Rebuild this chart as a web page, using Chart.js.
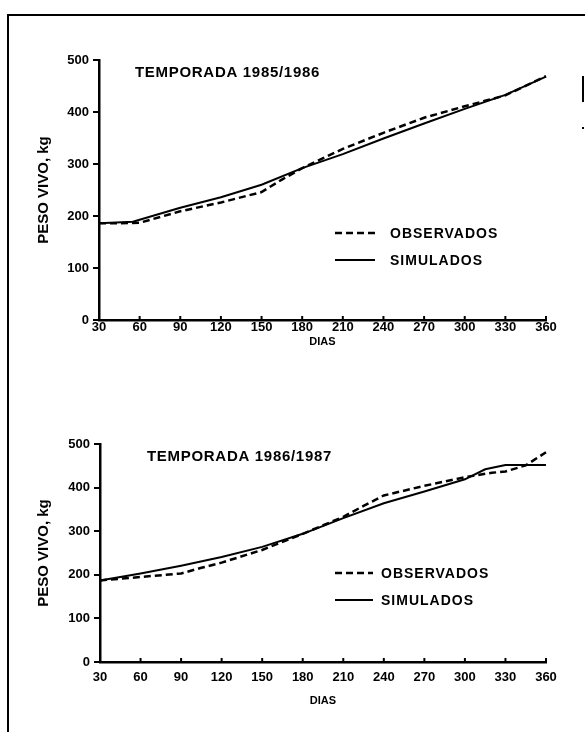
<!DOCTYPE html>
<html><head><meta charset="utf-8">
<script src="https://cdn.jsdelivr.net/npm/chart.js@4.4.1/dist/chart.umd.min.js"></script>
<style>
html,body{margin:0;padding:0;background:#fff;}
body{width:585px;height:732px;position:relative;overflow:hidden;}
#frame{position:absolute;left:7px;top:14px;width:620px;height:800px;border-left:2px solid #000;border-top:2px solid #000;box-sizing:border-box;}
.wrap{position:absolute;left:0;width:585px;height:366px;}
#w1{top:0}#w2{top:366px}
.mk{position:absolute;background:#000;}
</style></head><body>
<div id="frame"></div>
<div class="mk" style="left:582px;top:76px;width:2px;height:26px"></div>
<div class="mk" style="left:582px;top:127px;width:2px;height:2px"></div>
<div class="wrap" id="w1"><canvas id="c1" width="585" height="366"></canvas></div>
<div class="wrap" id="w2"><canvas id="c2" width="585" height="366"></canvas></div>
<script>
// ---- data ----
const xTickLabels = [30,60,90,120,150,180,210,240,270,300,330,360];
const yTickLabels = [0,100,200,300,400,500];

// Temporada 1985/1986
const obsDias1 = [30,45,60,90,120,150,165,180,210,240,270,300,330,360];
const obsPeso1 = [186,186,187,209,226,246,270,292,329,360,389,411,432,469];
const simDias1 = [30,55,90,120,150,180,210,240,270,300,330,360];
const simPeso1 = [186,189,216,236,260,292,319,349,378,406,433,468];

// Temporada 1986/1987
const obsDias2 = [30,60,90,105,120,150,180,210,225,240,270,300,320,330,345,360];
const obsPeso2 = [187,195,203,216,228,257,294,333,358,382,404,424,434,437,451,481];
const simDias2 = [30,60,90,120,150,180,210,240,270,300,315,330,360];
const simPeso2 = [187,203,221,241,264,294,330,364,391,419,442,452,452];

const FONT = '"Liberation Sans", Arial, Helvetica, sans-serif';

const decor = {
  id: 'decor',
  afterDraw(chart, args, o) {
    const {ctx, chartArea: a, scales: {x}} = chart;
    ctx.save();
    ctx.strokeStyle = '#000';
    ctx.fillStyle = '#000';
    // inward x ticks
    ctx.lineWidth = 2;
    x.ticks.forEach(t => {
      const px = x.getPixelForValue(t.value);
      ctx.beginPath(); ctx.moveTo(px, a.bottom); ctx.lineTo(px, a.bottom - 4); ctx.stroke();
    });
    // panel title
    ctx.font = 'bold 15px ' + FONT;
    ctx.letterSpacing = '0.7px';
    ctx.textBaseline = 'middle';
    ctx.textAlign = 'left';
    ctx.fillText(o.title, a.left + o.titleDx, a.top + o.titleDy);
    // legend
    chart.data.datasets.forEach((ds, i) => {
      const y = a.top + o.legDy + i * o.legGap;
      ctx.setLineDash(ds.borderDash || []);
      ctx.lineWidth = ds.borderWidth;
      ctx.beginPath(); ctx.moveTo(a.left + o.legX0, y); ctx.lineTo(a.left + o.legX1, y); ctx.stroke();
      ctx.setLineDash([]);
      ctx.font = 'bold 14px ' + FONT;
      ctx.letterSpacing = '1px';
      ctx.fillText(ds.label, a.left + o.legTx, y + 1);
    });
    ctx.restore();
  }
};

function pts(xs, ys) { return xs.map((d, i) => ({x: d, y: ys[i]})); }

function makeChart(id, obsX, obsY, simX, simY, cfg) {
  return new Chart(document.getElementById(id), {
    type: 'line',
    data: {
      datasets: [
        {label: 'OBSERVADOS', data: pts(obsX, obsY), borderColor: '#000', borderWidth: 2.5, borderDash: [7, 4], pointRadius: 0, tension: 0, clip: false},
        {label: 'SIMULADOS', data: pts(simX, simY), borderColor: '#000', borderWidth: 2, pointRadius: 0, tension: 0, clip: false}
      ]
    },
    options: {
      responsive: false, animation: false, devicePixelRatio: 1,
      layout: {padding: {left: 0, top: cfg.top, right: 39, bottom: cfg.bottom}},
      plugins: {legend: {display: false}, tooltip: {enabled: false}, decor: cfg.decor},
      scales: {
        x: {
          type: 'linear', min: 30, max: 360,
          afterBuildTicks: s => { s.ticks = xTickLabels.map(v => ({value: v})); },
          afterFit: s => { s.height = cfg.xH; },
          ticks: {color: '#000', font: {family: FONT, size: 13, weight: 'bold'}, padding: cfg.xPad, maxRotation: 0, autoSkip: false},
          grid: {drawOnChartArea: false, drawTicks: false},
          border: {color: '#000', width: 2.5},
          title: {display: true, text: 'DIAS', color: '#000', font: {family: FONT, size: 11, weight: 'bold'}, padding: {top: 0, bottom: cfg.diasPad}}
        },
        y: {
          type: 'linear', min: 0, max: 500,
          afterBuildTicks: s => { s.ticks = yTickLabels.map(v => ({value: v})); },
          afterFit: s => { s.width = cfg.yW; },
          ticks: {color: '#000', font: {family: FONT, size: 13, weight: 'bold'}, padding: 4},
          grid: {drawOnChartArea: false, drawTicks: true, tickLength: 6, color: '#000', lineWidth: 2},
          border: {color: '#000', width: 2.5},
          title: {display: true, text: 'PESO VIVO, kg', color: '#000', font: {family: FONT, size: 15, weight: 'bold'}, padding: {top: 35, bottom: 0}}
        }
      }
    },
    plugins: [decor]
  });
}

makeChart('c1', obsDias1, obsPeso1, simDias1, simPeso1, {
  top: 60, bottom: 6, xH: 40, yW: 99, xPad: 0, diasPad: 11,
  decor: {title: 'TEMPORADA 1985/1986', titleDx: 36, titleDy: 13, legX0: 236, legX1: 276, legTx: 291, legDy: 173, legGap: 27}
});
makeChart('c2', obsDias2, obsPeso2, simDias2, simPeso2, {
  top: 78, bottom: 20, xH: 50, yW: 100, xPad: 8, diasPad: 4,
  decor: {title: 'TEMPORADA 1986/1987', titleDx: 47, titleDy: 13, legX0: 235, legX1: 273, legTx: 281, legDy: 129, legGap: 27}
});
</script>
</body></html>
